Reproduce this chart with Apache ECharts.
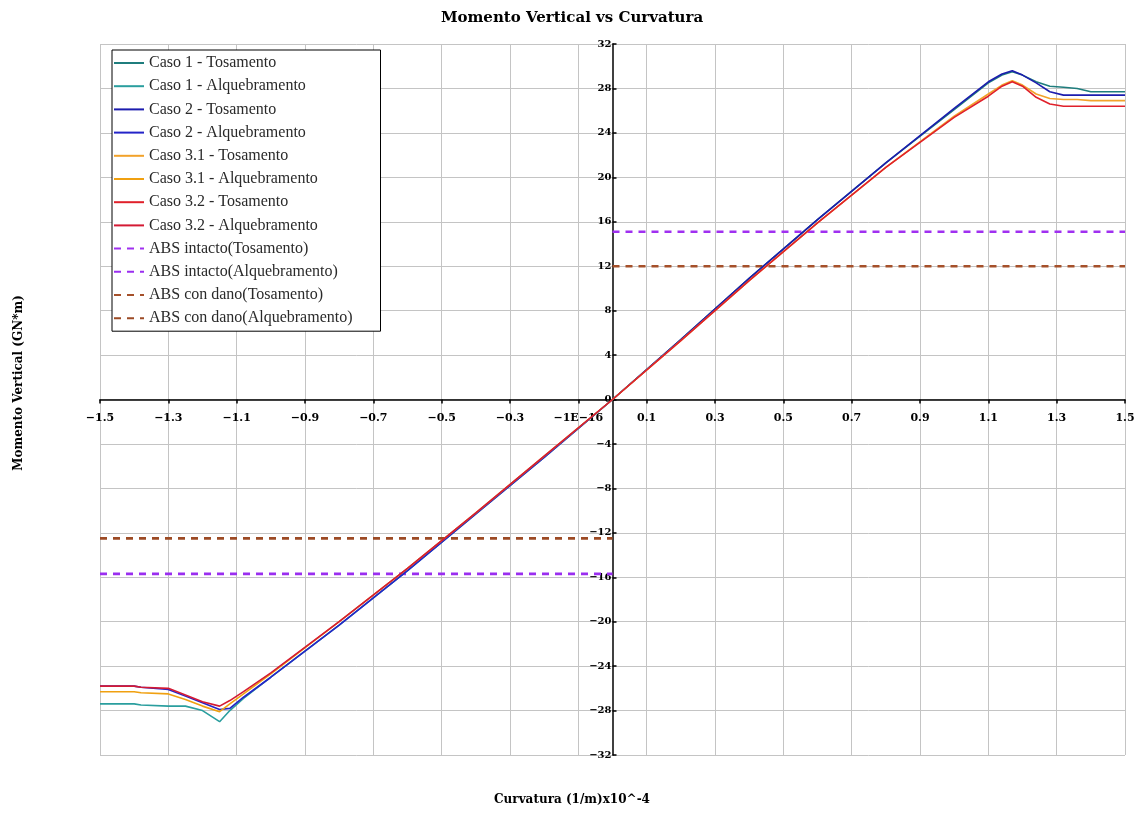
<!DOCTYPE html>
<html>
<head>
<meta charset="utf-8">
<script src="https://cdn.jsdelivr.net/npm/echarts@6/dist/echarts.min.js"></script>
<style>html,body{margin:0;padding:0;background:#fff;}#c{width:1144px;height:825px;}</style>
</head>
<body>
<div id="c"></div>
<script>
// ---- data ----
const xTickLabels = ['−1.5','−1.3','−1.1','−0.9','−0.7','−0.5','−0.3','−1E−16','0.1','0.3','0.5','0.7','0.9','1.1','1.3','1.5'];
const yTickLabels = ['−32','−28','−24','−20','−16','−12','−8','−4','0','4','8','12','16','20','24','28','32'];

// Tosamento (positive curvature)
const curvTos   = [0, 0.2, 0.4, 0.6, 0.8, 1.0, 1.1, 1.14, 1.17, 1.2, 1.24, 1.28, 1.32, 1.36, 1.4, 1.5];
const caso1Tos  = [0, 5.4, 10.9, 16.2, 21.3, 26.1, 28.5, 29.2, 29.5, 29.2, 28.6, 28.2, 28.1, 28.0, 27.7, 27.7];
const caso2Tos  = [0, 5.4, 10.9, 16.2, 21.3, 26.2, 28.6, 29.3, 29.6, 29.2, 28.5, 27.7, 27.4, 27.4, 27.4, 27.4];
const caso31Tos = [0, 5.3, 10.7, 15.9, 20.9, 25.5, 27.5, 28.3, 28.7, 28.3, 27.5, 27.1, 27.0, 27.0, 26.9, 26.9];
const caso32Tos = [0, 5.3, 10.7, 15.9, 20.9, 25.4, 27.3, 28.2, 28.6, 28.2, 27.2, 26.6, 26.4, 26.4, 26.4, 26.4];

// Alquebramento (negative curvature)
const curvAlq   = [0, -0.2, -0.4, -0.6, -0.8, -1.0, -1.08, -1.12, -1.15, -1.2, -1.25, -1.3, -1.38, -1.4, -1.5];
const caso1Alq  = [0, -5.2, -10.3, -15.4, -20.3, -25.0, -26.9, -28.0, -29.0, -28.0, -27.6, -27.6, -27.5, -27.4, -27.4];
const caso2Alq  = [0, -5.2, -10.3, -15.4, -20.3, -25.0, -26.8, -27.8, -27.9, -27.3, -26.7, -26.1, -25.9, -25.8, -25.8];
const caso31Alq = [0, -5.1, -10.2, -15.2, -20.0, -24.7, -26.5, -27.4, -28.1, -27.6, -27.0, -26.5, -26.4, -26.3, -26.3];
const caso32Alq = [0, -5.1, -10.2, -15.2, -20.0, -24.6, -26.3, -27.1, -27.6, -27.2, -26.6, -26.0, -25.9, -25.8, -25.8];

// ABS limits
const absIntactoTos = 15.1;
const absIntactoAlq = -15.7;
const absDanoTos = 12.0;
const absDanoAlq = -12.5;

const seriesNames = ['Caso 1 - Tosamento','Caso 1 - Alquebramento','Caso 2 - Tosamento','Caso 2 - Alquebramento',
  'Caso 3.1 - Tosamento','Caso 3.1 - Alquebramento','Caso 3.2 - Tosamento','Caso 3.2 - Alquebramento',
  'ABS intacto(Tosamento)','ABS intacto(Alquebramento)','ABS con dano(Tosamento)','ABS con dano(Alquebramento)'];

// ---- build ----
function pairs(xs, ys){ return xs.map((x,i)=>[x, ys[i]]); }
const colors = ['#1f7d7d','#2a9e9e','#1c1cae','#2424c8','#f2a22a','#f0a010','#e0202a','#d41a34','#a030f0','#9a2ef0','#a5502a','#9c4a24'];
const curveData = [
  pairs(curvTos, caso1Tos), pairs(curvAlq, caso1Alq),
  pairs(curvTos, caso2Tos), pairs(curvAlq, caso2Alq),
  pairs(curvTos, caso31Tos), pairs(curvAlq, caso31Alq),
  pairs(curvTos, caso32Tos), pairs(curvAlq, caso32Alq)
];
const absData = [
  [[0, absIntactoTos],[1.5, absIntactoTos]],
  [[-1.5, absIntactoAlq],[0, absIntactoAlq]],
  [[0, absDanoTos],[1.5, absDanoTos]],
  [[-1.5, absDanoAlq],[0, absDanoAlq]]
];
const series = [];
curveData.forEach((d,i)=>{
  series.push({name: seriesNames[i], type:'line', data:d, showSymbol:false, symbol:'none',
    lineStyle:{color:colors[i], width:1.6}, itemStyle:{color:colors[i]}, z: 3+i, animation:false});
});
absData.forEach((d,j)=>{
  const i = 8+j;
  series.push({name: seriesNames[i], type:'line', data:d, showSymbol:false, symbol:'none',
    lineStyle:{color:colors[i], width:2.6, type:[7,6]}, itemStyle:{color:colors[i]}, z: 2, animation:false});
});

const W = 1144, H = 825;
const gridL = 100, gridR = 19, gridT = 44, gridB = 70;
const xMin = -1.5, xMax = 1.5, yMin = -32, yMax = 32;
// offsets so both axes cross at the origin (0,0)
const gridW = W - gridL - gridR, gridH = H - gridT - gridB;
const xAxisOffset = -gridH * (0 - yMin) / (yMax - yMin);
const yAxisOffset = -gridW * (0 - xMin) / (xMax - xMin);

const serif = 'DejaVu Serif';
const chart = echarts.init(document.getElementById('c'), null, {renderer:'canvas'});
chart.setOption({
  backgroundColor:'#ffffff',
  animation:false,
  textStyle:{fontFamily:serif},
  title:{text:'Momento Vertical vs Curvatura', left:'center', top:6,
    textStyle:{fontFamily:serif, fontSize:15, fontWeight:'bold', color:'#000'}},
  grid:{left:gridL, right:gridR, top:gridT, bottom:gridB, containLabel:false},
  legend:{
    orient:'vertical', left:112, top:50, padding:[5,28,5,1],
    itemWidth:30, itemHeight:14, itemGap:7.2,
    borderColor:'#000', borderWidth:1, backgroundColor:'#fff',
    itemStyle:{opacity:0, color:'rgba(0,0,0,0)', borderWidth:0},
    textStyle:{fontFamily:'Liberation Serif', fontSize:16, color:'#2a2a2a'},
    data: seriesNames
  },
  xAxis:{
    type:'value', min:xMin, max:xMax, interval:0.2, position:'bottom', offset:xAxisOffset,
    axisLine:{onZero:false, lineStyle:{color:'#000', width:1.5}},
    axisTick:{show:true, length:4, lineStyle:{color:'#000', width:1.5}},
    axisLabel:{margin:13, fontFamily:serif, fontSize:11, fontWeight:'bold', color:'#000',
      formatter:(v)=>xTickLabels[Math.round((v-xMin)/0.2)]},
    splitLine:{show:true, lineStyle:{color:'#c4c4c4', width:1}}
  },
  yAxis:{
    type:'value', min:yMin, max:yMax, interval:4, position:'left', offset:yAxisOffset,
    axisLine:{onZero:false, lineStyle:{color:'#000', width:1.5}},
    axisTick:{show:true, inside:true, length:4, lineStyle:{color:'#000', width:1.5}},
    axisLabel:{margin:1, fontFamily:serif, fontSize:10, fontWeight:'bold', color:'#000',
      formatter:(v)=>yTickLabels[Math.round((v-yMin)/4)]},
    splitLine:{show:true, lineStyle:{color:'#c4c4c4', width:1}}
  },
  graphic:[
    {type:'text', left:'center', top:794,
      style:{text:'Curvatura (1/m)x10^-4', fontFamily:serif, fontSize:12, fontWeight:'bold', fill:'#000'}},
    {type:'text', x:19, y:383, rotation:Math.PI/2,
      style:{text:'Momento Vertical (GN*m)', fontFamily:serif, fontSize:12, fontWeight:'bold', fill:'#000',
        align:'center', verticalAlign:'middle'}}
  ],
  series: series
});
</script>
</body>
</html>
